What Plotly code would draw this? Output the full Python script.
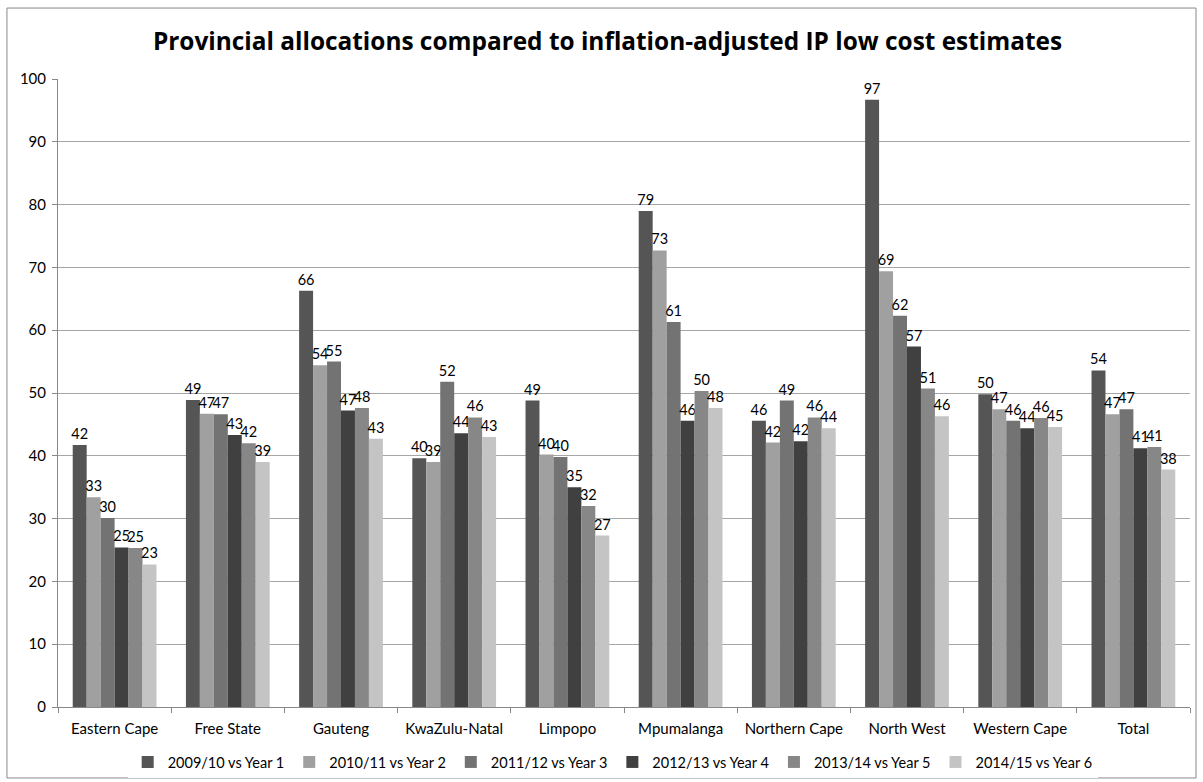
import plotly.graph_objects as go

categories = ["Eastern Cape", "Free State", "Gauteng", "KwaZulu-Natal", "Limpopo",
              "Mpumalanga", "Northern Cape", "North West", "Western Cape", "Total"]

series_names = ["2009/10 vs Year 1", "2010/11 vs Year 2", "2011/12 vs Year 3",
                "2012/13 vs Year 4", "2013/14 vs Year 5", "2014/15 vs Year 6"]

y2009 = [41.7, 48.9, 66.3, 39.6, 48.8, 79.0, 45.6, 96.7, 49.8, 53.6]
y2010 = [33.4, 46.7, 54.4, 39.0, 40.2, 72.7, 42.1, 69.4, 47.4, 46.6]
y2011 = [30.1, 46.6, 55.0, 51.8, 39.8, 61.3, 48.8, 62.3, 45.6, 47.4]
y2012 = [25.4, 43.3, 47.2, 43.6, 35.0, 45.6, 42.3, 57.4, 44.4, 41.2]
y2013 = [25.3, 42.0, 47.6, 46.1, 32.0, 50.3, 46.1, 50.7, 46.0, 41.4]
y2014 = [22.7, 39.0, 42.7, 43.0, 27.3, 47.6, 44.4, 46.3, 44.6, 37.8]

colors = ["#555555", "#a0a0a0", "#737373", "#404040", "#878787", "#c4c4c4"]

FONT = "Lato, Calibri, Carlito, Liberation Sans, sans-serif"
TFONT = "Open Sans, Liberation Sans, sans-serif"

fig = go.Figure()
for name, vals, col in zip(series_names, [y2009, y2010, y2011, y2012, y2013, y2014], colors):
    fig.add_trace(go.Bar(
        x=categories, y=vals, name=name,
        marker=dict(color=col, line=dict(width=0)),
        text=[f"{round(v):d}" for v in vals],
        textposition="outside",
        textfont=dict(size=14.5, color="#000000", family=FONT),
        constraintext="none",
        cliponaxis=False,
    ))

fig.update_layout(
    width=1203, height=782,
    paper_bgcolor="white", plot_bgcolor="white",
    margin=dict(l=58, r=13, t=79, b=75, autoexpand=False),
    barmode="group", bargap=0.26, bargroupgap=0,
    font=dict(family=FONT, size=14, color="#000000"),
    title=dict(text="<b>Provincial allocations compared to inflation-adjusted IP low cost estimates</b>",
               x=0.505, xanchor="center", y=0.947, yanchor="middle",
               font=dict(size=24.4, family=TFONT, color="#000000")),
    showlegend=True,
    legend=dict(orientation="h", x=0.49, xanchor="center", y=-0.0876, yanchor="middle",
                font=dict(size=14.5, family=FONT), traceorder="normal",
                itemwidth=30, tracegroupgap=0),
    xaxis=dict(showline=True, linecolor="#888888", linewidth=1,
               ticks="outside", ticklen=5, tickcolor="#888888", tickson="boundaries",
               tickfont=dict(size=15, family=FONT), showgrid=False,
               ticklabelstandoff=8, automargin=False),
    yaxis=dict(range=[0, 100], dtick=10, showline=True, linecolor="#888888", linewidth=1,
               ticks="outside", ticklen=5, tickcolor="#888888",
               showgrid=True, gridcolor="#a6a6a6", gridwidth=1,
               tickfont=dict(size=15, family=FONT), zeroline=False,
               ticklabelstandoff=3, automargin=False),
    shapes=[dict(type="rect", xref="paper", yref="paper",
                 x0=-0.0451, x1=1.0053, y0=-0.113, y1=1.113,
                 line=dict(color="#888888", width=1), layer="below")],
)

fig.write_html("out.html")
